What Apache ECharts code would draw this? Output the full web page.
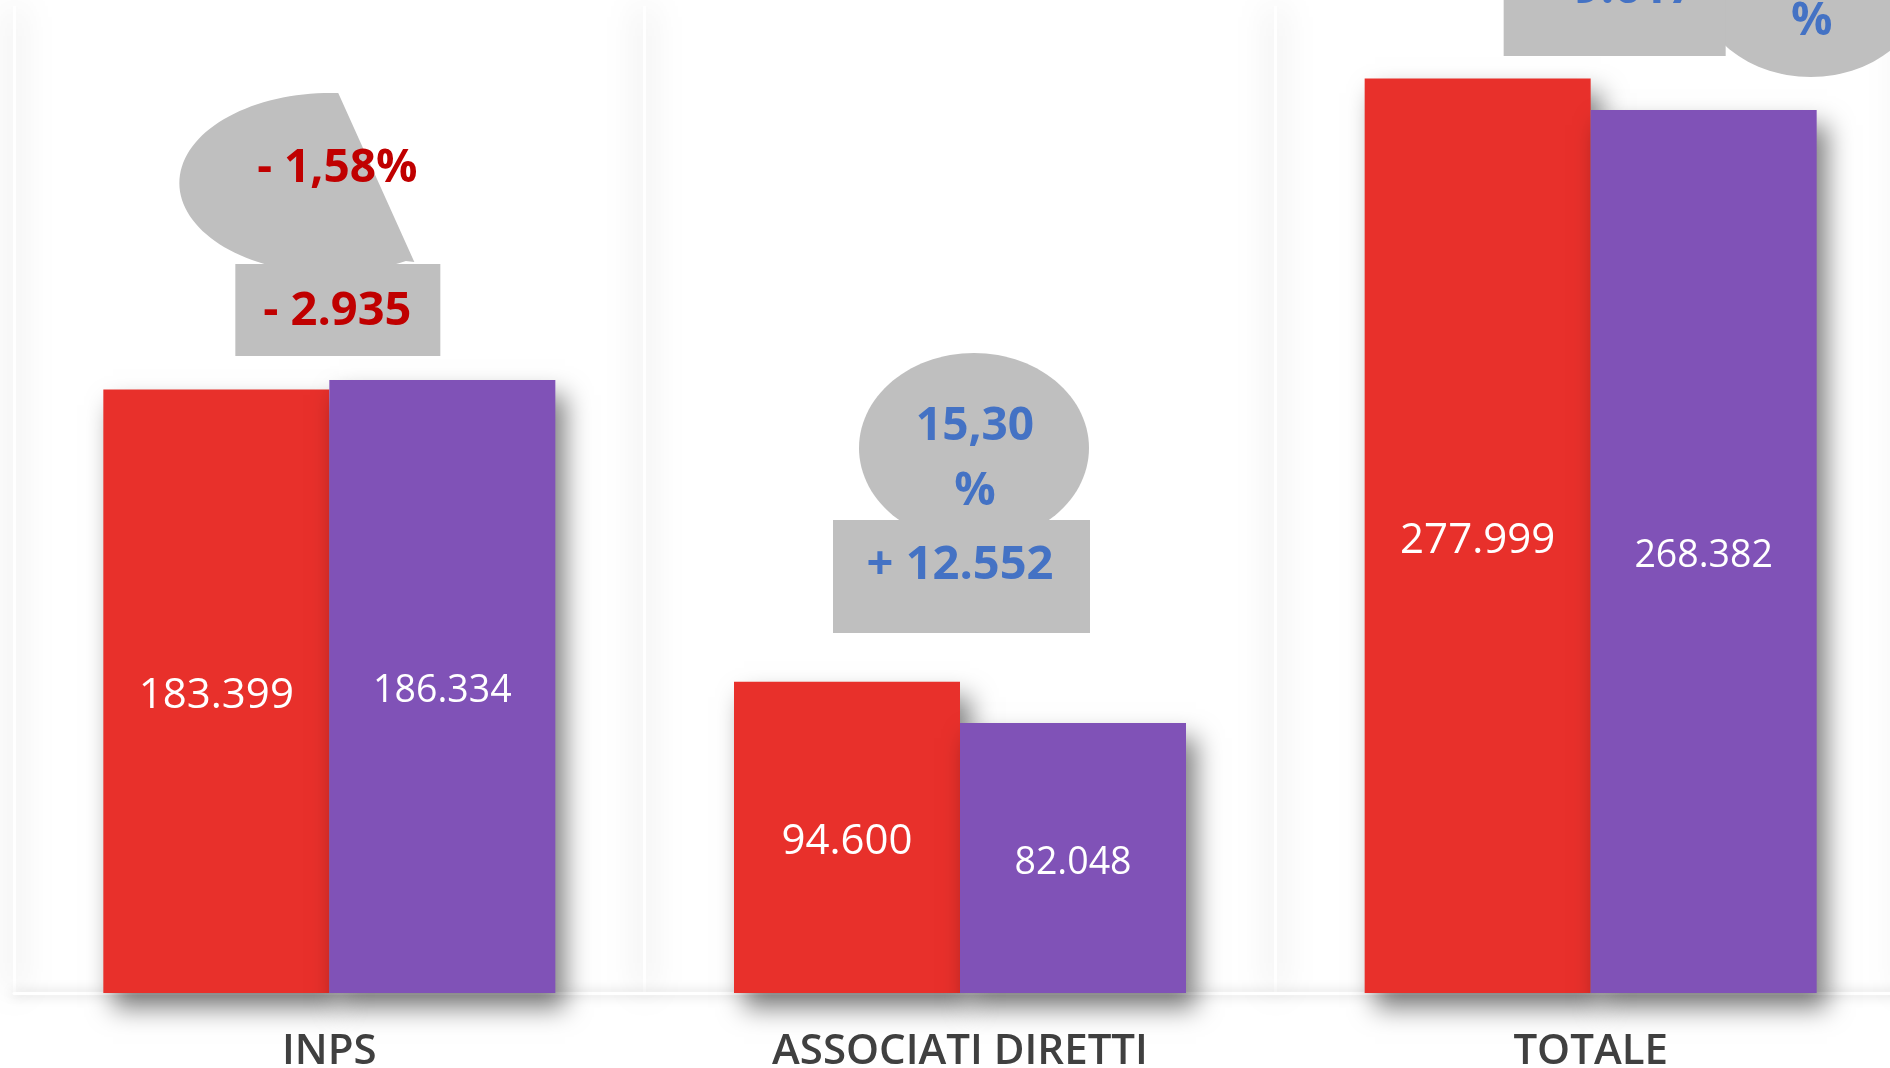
<!DOCTYPE html>
<html>
<head>
<meta charset="utf-8">
<script src="https://cdn.jsdelivr.net/npm/echarts@6/dist/echarts.min.js"></script>
<style>
  html, body { margin: 0; padding: 0; background: #fff; }
  #chart { width: 1890px; height: 1068px; }
</style>
</head>
<body>
<div id="chart"></div>
<script>
// data
const categories = ['INPS', 'ASSOCIATI DIRETTI', 'TOTALE'];
const valuesRed = [183399, 94600, 277999];
const valuesPurple = [186334, 82048, 268382];
const deltaLabels = ['- 2.935', '+ 12.552', '+ 9.617'];
const pctLabels = ['- 1,58%', '15,30\n%', '3,58\n%'];

const RED = '#E8302B';
const PURPLE = '#8052B7';
const CALLOUT_GREY = '#BFBFBF';
const TXT_NEG = '#C00000';
const TXT_POS = '#4472C4';

const fmt = v => String(v).replace(/\B(?=(\d{3})+(?!\d))/g, '.');

const barShadow = {
  shadowColor: 'rgba(0,0,0,0.5)',
  shadowBlur: 24,
  shadowOffsetX: 10,
  shadowOffsetY: 15
};

const chart = echarts.init(document.getElementById('chart'));

const option = {
  animation: false,
  backgroundColor: '#ffffff',
  grid: { left: 14, width: 1892, top: 6, bottom: 75, containLabel: false, outerBoundsMode: 'none' },
  xAxis: {
    type: 'category',
    data: categories,
    axisTick: { show: false },
    axisLine: {
      lineStyle: { color: '#ffffff', width: 3, shadowColor: 'rgba(0,0,0,0.25)', shadowBlur: 12 }
    },
    splitLine: {
      show: true,
      lineStyle: { color: '#ffffff', width: 3, shadowColor: 'rgba(0,0,0,0.4)', shadowBlur: 34 }
    },
    axisLabel: {
      margin: 38,
      color: '#404040',
      fontFamily: 'Open Sans',
      fontWeight: 600,
      fontSize: 42
    }
  },
  yAxis: {
    type: 'value',
    min: 0,
    max: 300000,
    show: false,
    splitLine: { show: false }
  },
  series: [
    {
      name: 'A',
      type: 'bar',
      data: valuesRed,
      barWidth: 226,
      barGap: '0%',
      itemStyle: Object.assign({ color: RED }, barShadow),
      label: {
        show: true,
        position: 'inside',
        offset: [0, 5],
        color: '#ffffff',
        fontFamily: 'Open Sans',
        fontSize: 42,
        formatter: p => fmt(p.value)
      }
    },
    {
      name: 'B',
      type: 'bar',
      data: valuesPurple,
      barWidth: 226,
      barGap: '0%',
      itemStyle: Object.assign({ color: PURPLE }, barShadow),
      label: {
        show: true,
        position: 'inside',
        offset: [0, 5],
        color: '#ffffff',
        fontFamily: 'Open Sans',
        fontSize: 37.5,
        formatter: p => fmt(p.value)
      }
    }
  ]
};

chart.setOption(option);

// callout placement, relative to each category centre
const calloutLayout = [
  { rect: [-94, 111, 264, 356], delta: [8, 312], shape: [1, 183, 151, 90], wedge: { from: -87, to: -300, tail: [85, 262] }, pct: [8, 169] },
  { rect: [-127, 130, 520, 633], delta: [0, 566], shape: [14, 448, 115, 95], pct: [15, 459] },
  { rect: [-87, 135, -56, 56], delta: [24, -10], shape: [220, -18, 115, 95], pct: [221, -11] }
];

function arcPoints(cx, cy, rx, ry, fromDeg, toDeg, n) {
  const pts = [];
  for (let i = 0; i <= n; i++) {
    const a = (fromDeg + (toDeg - fromDeg) * i / n) * Math.PI / 180;
    pts.push([cx + rx * Math.cos(a), cy + ry * Math.sin(a)]);
  }
  return pts;
}

const graphics = [];
categories.forEach((c, i) => {
  const cx = chart.convertToPixel({ xAxisIndex: 0 }, c);
  const L = calloutLayout[i];
  const diff = valuesRed[i] - valuesPurple[i];
  const txtColor = diff < 0 ? TXT_NEG : TXT_POS;
  const ecx = cx + L.shape[0];
  let pts;
  if (L.wedge) {
    pts = arcPoints(ecx, L.shape[1], L.shape[2], L.shape[3], L.wedge.from, L.wedge.to, 80);
    pts.push([cx + L.wedge.tail[0], L.wedge.tail[1]]);
  } else {
    pts = arcPoints(ecx, L.shape[1], L.shape[2], L.shape[3], 0, 360, 120);
  }
  graphics.push({
    type: 'polygon',
    shape: { points: pts },
    style: { fill: CALLOUT_GREY },
    z: 10
  });
  graphics.push({
    type: 'text',
    x: cx + L.pct[0],
    y: L.pct[1],
    style: {
      text: pctLabels[i],
      fill: txtColor,
      font: 'bold 46px "Open Sans"',
      align: 'center',
      verticalAlign: 'middle',
      lineHeight: 65
    },
    z: 11
  });
  graphics.push({
    type: 'rect',
    shape: { x: cx + L.rect[0], y: L.rect[2], width: L.rect[1] - L.rect[0], height: L.rect[3] - L.rect[2] },
    style: { fill: CALLOUT_GREY },
    z: 12
  });
  graphics.push({
    type: 'text',
    x: cx + L.delta[0],
    y: L.delta[1],
    style: {
      text: deltaLabels[i],
      fill: txtColor,
      font: 'bold 47px "Open Sans"',
      align: 'center',
      verticalAlign: 'middle'
    },
    z: 13
  });
});

chart.setOption({ graphic: graphics });
</script>
</body>
</html>
